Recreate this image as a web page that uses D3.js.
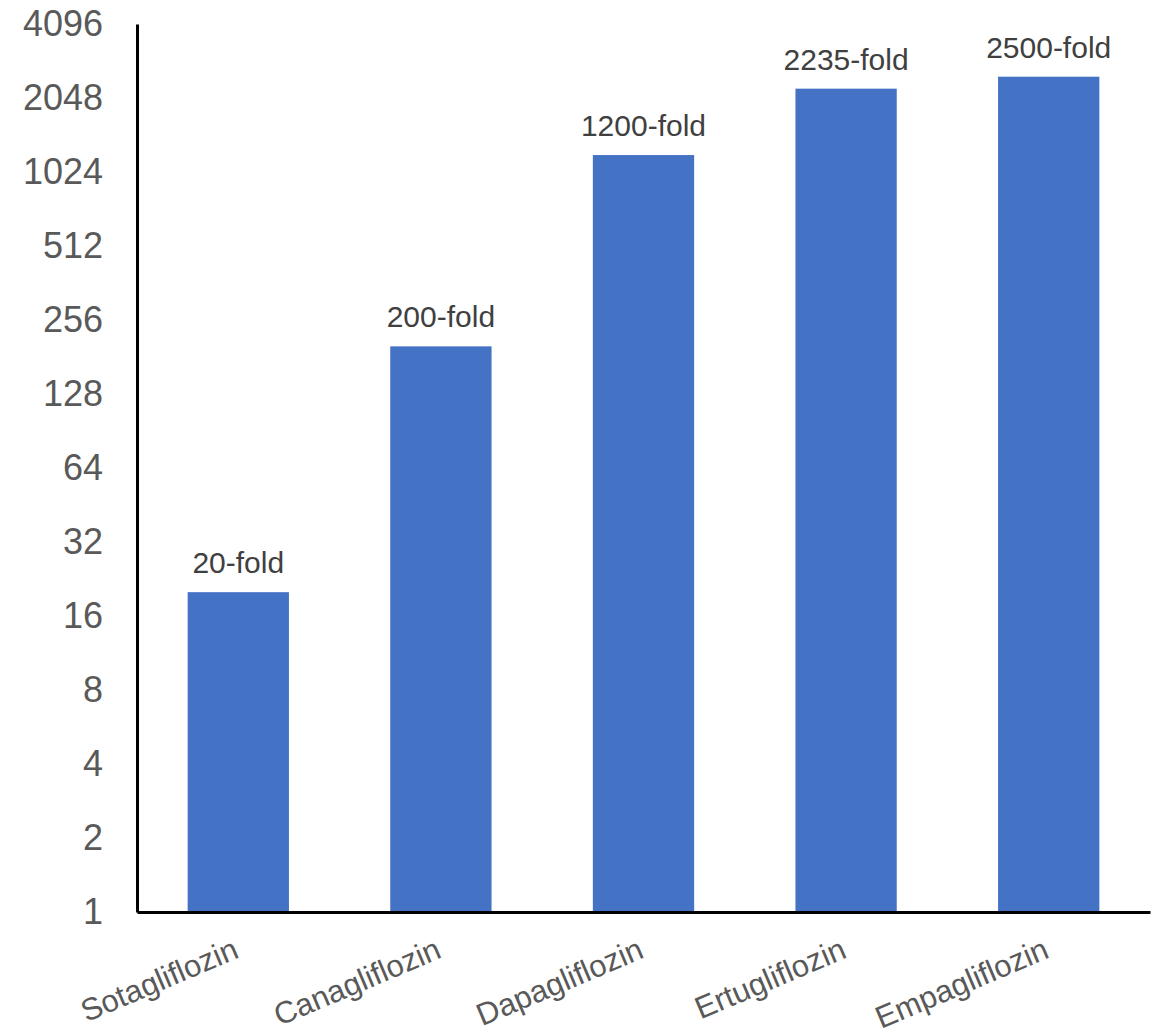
<!DOCTYPE html>
<html>
<head>
<meta charset="utf-8">
<script src="https://cdn.jsdelivr.net/npm/d3@7"></script>
<style>
body { margin: 0; background: #fff; }
svg { display: block; font-family: Arial, "Liberation Sans", sans-serif; }
</style>
</head>
<body>
<svg id="chart" width="1161" height="1035"></svg>
<script>
const categories = ["Sotagliflozin", "Canagliflozin", "Dapagliflozin", "Ertugliflozin", "Empagliflozin"];
const values = [20, 200, 1200, 2235, 2500];
const valueLabels = ["20-fold", "200-fold", "1200-fold", "2235-fold", "2500-fold"];
const yTicks = [1, 2, 4, 8, 16, 32, 64, 128, 256, 512, 1024, 2048, 4096];

(function () {
const svg = d3.select("#chart");
const mLeft = 137, mRight = 1150, mTop = 24, mBottom = 912;

const x = d3.scaleBand().domain(categories).range([mLeft, mRight]).paddingInner(0.5).paddingOuter(0.25);
const y = d3.scaleLog().base(2).domain([1, 4096]).range([mBottom, mTop]);

// bars
svg.selectAll("rect.bar").data(categories).enter().append("rect")
  .attr("class", "bar")
  .attr("x", d => x(d))
  .attr("width", x.bandwidth())
  .attr("y", (d, i) => y(values[i]))
  .attr("height", (d, i) => y(1) - y(values[i]))
  .attr("fill", "#4472C4");

// value labels
svg.selectAll("text.vl").data(categories).enter().append("text")
  .attr("class", "vl")
  .attr("x", d => x(d) + x.bandwidth() / 2)
  .attr("y", (d, i) => y(values[i]) - 19)
  .attr("text-anchor", "middle")
  .attr("font-size", 30)
  .attr("fill", "#404040")
  .text((d, i) => valueLabels[i]);

// y axis
const yAxis = d3.axisLeft(y).tickValues(yTicks).tickFormat(d3.format("d")).tickSize(0).tickPadding(34);
const gy = svg.append("g").attr("transform", `translate(${mLeft},0)`).call(yAxis);
gy.select(".domain").attr("stroke", "#000").attr("stroke-width", 3);
gy.selectAll("text").attr("font-size", 36).attr("fill", "#595959").attr("font-family", "Arial, 'Liberation Sans', sans-serif");

// x axis
const xAxis = d3.axisBottom(x).tickSize(0).tickPadding(0);
const gx = svg.append("g").attr("transform", `translate(0,${mBottom})`).call(xAxis);
gx.select(".domain").attr("stroke", "#000").attr("stroke-width", 3);
gx.selectAll("text")
  .attr("font-size", 31)
  .attr("fill", "#595959")
  .attr("font-family", "Arial, 'Liberation Sans', sans-serif")
  .attr("text-anchor", "end")
  .attr("dy", null)
  .attr("transform", "translate(2,45) rotate(-23)");
})();
</script>
</body>
</html>
